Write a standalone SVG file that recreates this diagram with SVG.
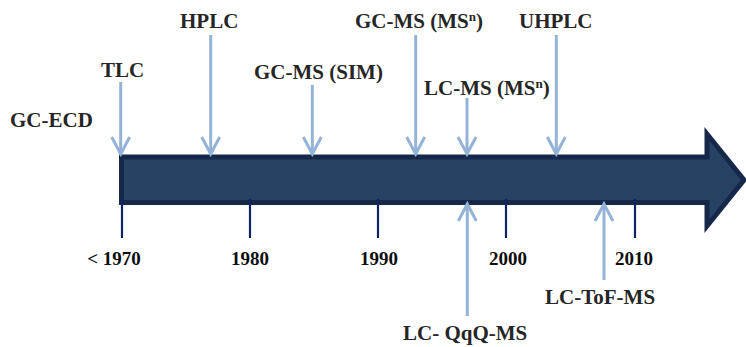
<svg xmlns="http://www.w3.org/2000/svg" width="746" height="347" viewBox="0 0 746 347">
  <style>
    .lbl { font-family: "Liberation Serif", "Times New Roman", serif; font-weight: bold; font-size: 21px; fill: #262626; }
    .yr { font-family: "Liberation Serif", "Times New Roman", serif; font-weight: bold; font-size: 19px; fill: #0d0d0d; text-anchor: middle; }
    .sup { font-size: 13px; }
    .tick { stroke: #0b2463; stroke-width: 2.2; }
    .pin { stroke: #95b3d7; stroke-width: 3; fill: none; marker-end: url(#chev); }
  </style>
  <defs>
    <marker id="chev" markerUnits="userSpaceOnUse" viewBox="-20 -12 24 24" refX="0" refY="0" markerWidth="24" markerHeight="24" orient="auto" overflow="visible">
      <path d="M -17 -9 L 0 0 L -17 9" stroke="#95b3d7" stroke-width="3" fill="none" stroke-linejoin="miter"/>
    </marker>
  </defs>

  <!-- timeline arrow -->
  <g id="timeline">
    <polygon points="121.5,157 707,157 707,134 744,180 707,226 707,202.5 121.5,202.5" fill="#274263" stroke="#15284a" stroke-width="5" stroke-linejoin="miter"/>
  </g>

  <!-- year ticks and labels -->
  <g id="axis">
    <line class="tick" x1="122" y1="199" x2="122" y2="238"/>
    <line class="tick" x1="250" y1="199" x2="250" y2="238"/>
    <line class="tick" x1="378" y1="199" x2="378" y2="238"/>
    <line class="tick" x1="506" y1="199" x2="506" y2="238"/>
    <line class="tick" x1="635" y1="199" x2="635" y2="238"/>
    <text class="yr" x="114" y="265">&lt; 1970</text>
    <text class="yr" x="250" y="265">1980</text>
    <text class="yr" x="379" y="265">1990</text>
    <text class="yr" x="508" y="265">2000</text>
    <text class="yr" x="634" y="265">2010</text>
  </g>

  <!-- connectors -->
  <g id="connectors">
    <line class="pin" x1="120.7" y1="82" x2="120.7" y2="154"/>
    <line class="pin" x1="210.7" y1="35" x2="210.7" y2="154"/>
    <line class="pin" x1="312.3" y1="85" x2="312.3" y2="154"/>
    <line class="pin" x1="415.7" y1="35" x2="415.7" y2="154"/>
    <line class="pin" x1="467" y1="98" x2="467" y2="154"/>
    <line class="pin" x1="556.3" y1="35" x2="556.3" y2="154"/>
    <line class="pin" x1="467.3" y1="316" x2="467.3" y2="204"/>
    <line class="pin" x1="604" y1="280" x2="604" y2="204"/>
  </g>

  <!-- technique labels -->
  <g id="gc-ecd"><text class="lbl" x="10" y="127">GC-ECD</text></g>
  <g id="tlc"><text class="lbl" x="101" y="77">TLC</text></g>
  <g id="hplc"><text class="lbl" x="180" y="28">HPLC</text></g>
  <g id="gc-ms-sim"><text class="lbl" x="254" y="79">GC-MS (SIM)</text></g>
  <g id="gc-ms-msn"><text class="lbl" x="355" y="28">GC-MS (MS<tspan class="sup" dy="-7">n</tspan><tspan dy="7">)</tspan></text></g>
  <g id="uhplc"><text class="lbl" x="519" y="28">UHPLC</text></g>
  <g id="lc-ms-msn"><text class="lbl" x="424" y="95">LC-MS (MS<tspan class="sup" dy="-7">n</tspan><tspan dy="7">)</tspan></text></g>
  <g id="lc-qqq-ms"><text class="lbl" x="403" y="340">LC- QqQ-MS</text></g>
  <g id="lc-tof-ms"><text class="lbl" x="545" y="304">LC-ToF-MS</text></g>
</svg>
